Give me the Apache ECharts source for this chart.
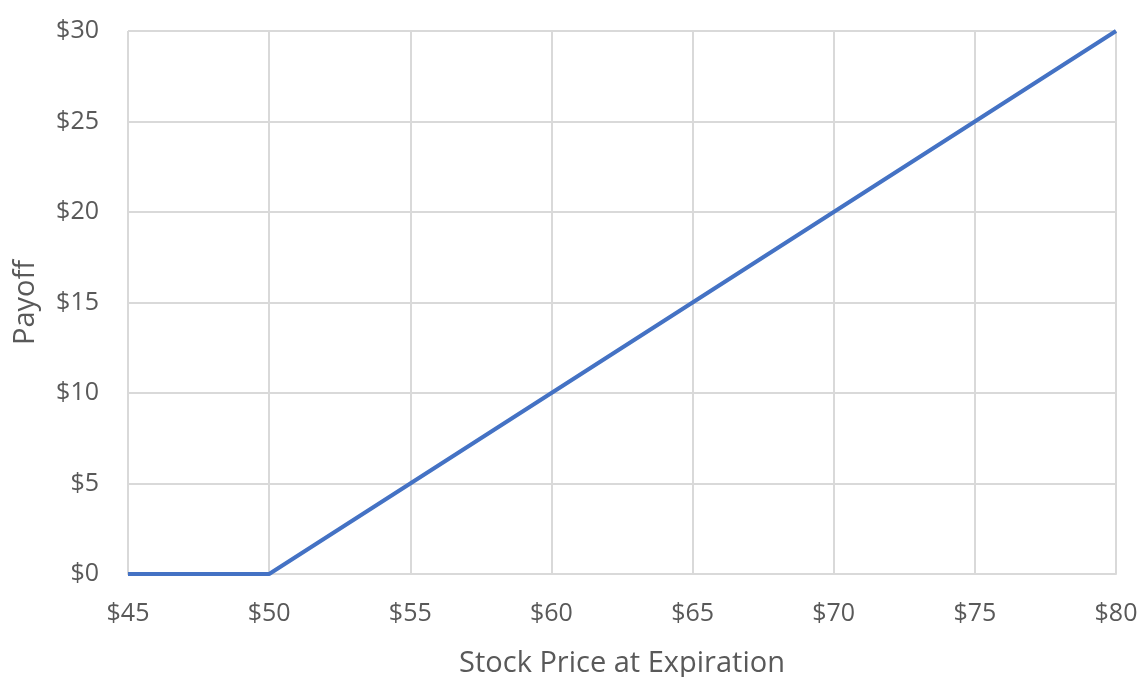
<!DOCTYPE html>
<html>
<head>
<meta charset="utf-8">
<script src="https://cdn.jsdelivr.net/npm/echarts@6/dist/echarts.min.js"></script>
<style>
  html, body { margin: 0; padding: 0; background: #fff; }
  #chart { width: 1141px; height: 677px; }
</style>
</head>
<body>
<div id="chart"></div>
<script>
// Call option payoff at expiration, strike $50
const stockPrices = [45, 50, 55, 60, 65, 70, 75, 80];
const payoffs = [0, 0, 5, 10, 15, 20, 25, 30];

const xTitle = 'Stock Price at Expiration';
const yTitle = 'Payoff';

const textColor = '#595959';
const gridColor = '#d9d9d9';
const fontFamily = '"Open Sans", "Noto Sans", sans-serif';

const chart = echarts.init(document.getElementById('chart'), null, { renderer: 'canvas' });
chart.setOption({
  animation: false,
  grid: { left: 128, right: 25, top: 31, bottom: 103, containLabel: false, outerBoundsMode: 'none' },
  xAxis: {
    type: 'value',
    min: 45, max: 80, interval: 5,
    name: xTitle,
    nameLocation: 'middle',
    nameGap: 75,
    nameTextStyle: { color: textColor, fontSize: 29, fontFamily },
    axisLine: { show: true, lineStyle: { color: gridColor, width: 2 } },
    axisTick: { show: false },
    axisLabel: { color: textColor, fontSize: 25, fontFamily, margin: 27, formatter: v => '$' + v },
    splitLine: { show: true, lineStyle: { color: gridColor, width: 2 } }
  },
  yAxis: {
    type: 'value',
    min: 0, max: 30, interval: 5,
    name: yTitle,
    nameLocation: 'middle',
    nameGap: 88,
    nameTextStyle: { color: textColor, fontSize: 29, fontFamily },
    axisLine: { show: false },
    axisTick: { show: false },
    axisLabel: { color: textColor, fontSize: 25, fontFamily, margin: 29, formatter: v => '$' + v },
    splitLine: { show: true, lineStyle: { color: gridColor, width: 2 } }
  },
  series: [{
    type: 'line',
    data: stockPrices.map((x, i) => [x, payoffs[i]]),
    showSymbol: false,
    lineStyle: { color: '#4472c4', width: 4 },
    itemStyle: { color: '#4472c4' }
  }]
});
</script>
</body>
</html>
